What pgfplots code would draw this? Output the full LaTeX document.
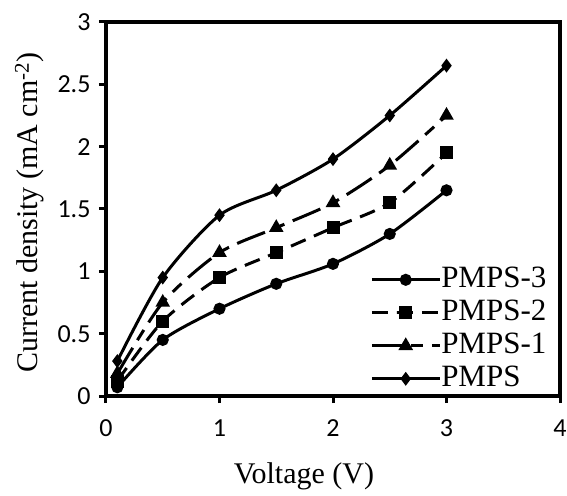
\documentclass[border=0pt]{standalone}
\usepackage{fontspec}
\setmainfont{Liberation Serif}
\newfontfamily\calibri{Carlito}
\usepackage{pgfplots}
\pgfplotsset{compat=1.18}
\begin{document}
\begin{tikzpicture}
\begin{axis}[
  scale only axis,
  width=454pt, height=374pt,
  xmin=0, xmax=4, ymin=0, ymax=3,
  xtick={0,1,2,3,4}, ytick={0,0.5,1,1.5,2,2.5,3},
  xtick pos=bottom, ytick pos=left,
  tick align=outside, major tick length=7pt,
  axis line style={line width=3.5pt},
  every tick/.style={line width=3pt, black},
  xticklabel={\calibri\fontsize{26}{30}\selectfont\pgfmathprintnumber[assume math mode=true]{\tick}},
  yticklabel={\calibri\fontsize{26}{30}\selectfont\pgfmathprintnumber[assume math mode=true]{\tick}},
  xticklabel style={yshift=-13pt},
  yticklabel style={xshift=-5pt},
  xlabel={Voltage (V)},
  ylabel={Current density (mA cm\textsuperscript{-2})},
  label style={font=\fontsize{30}{34}\selectfont},
  xlabel style={at={(axis description cs:0.436,-0.215)}, anchor=center},
  ylabel style={at={(axis description cs:-0.168,0.49)}, anchor=center},
  legend cell align=left,
  legend style={draw=none, fill=none, at={(0.575,0.35)}, anchor=north west,
    font=\fontsize{31}{34}\selectfont, row sep=8pt,
    nodes={inner sep=0pt, text height=20pt, text depth=5pt},
    /tikz/every even column/.append style={column sep=2pt}},
  legend image code/.code={\draw[mark repeat=2,mark phase=2,#1] plot coordinates {(0pt,0pt) (34pt,0pt) (68pt,0pt)};},
  every axis plot/.append style={line width=3pt, black, smooth, tension=0.45},
]
\addplot[mark=*, mark size=4.5pt, mark options={solid}] coordinates {
 (0.1,0.07) (0.5,0.45) (1,0.70) (1.5,0.90) (2,1.06) (2.5,1.30) (3,1.65)};
\addlegendentry{PMPS-3}
\addplot[dash pattern=on 16pt off 9pt, mark=square*, mark size=5pt, mark options={solid}] coordinates {
 (0.1,0.12) (0.5,0.60) (1,0.95) (1.5,1.15) (2,1.35) (2.5,1.55) (3,1.95)};
\addlegendentry{PMPS-2}
\addplot[dash pattern=on 30pt off 9pt on 12pt off 9pt, mark=triangle*, mark size=5.5pt, mark options={solid}] coordinates {
 (0.1,0.18) (0.5,0.75) (1,1.15) (1.5,1.35) (2,1.55) (2.5,1.85) (3,2.25)};
\addlegendentry{PMPS-1}
\addplot[mark=diamond*, mark size=4.5pt, mark options={solid}] coordinates {
 (0.1,0.28) (0.5,0.95) (1,1.45) (1.5,1.65) (2,1.90) (2.5,2.25) (3,2.65)};
\addlegendentry{PMPS}
\end{axis}
\pgfresetboundingbox
\path[use as bounding box] (-106pt,-99pt) rectangle (461pt,396pt);
\end{tikzpicture}
\end{document}
